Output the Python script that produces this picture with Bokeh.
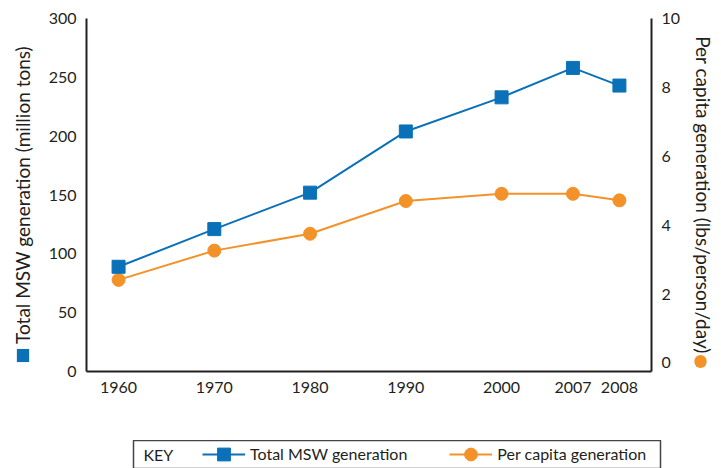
from bokeh.plotting import figure
from bokeh.layouts import column
from bokeh.models import (ColumnDataSource, FactorRange, Range1d, LinearAxis,
                          FixedTicker, Legend, LegendItem, Label)
from bokeh.embed import file_html
from bokeh.resources import INLINE

# ---- data ----
years = ["1960", "1970", "1980", "1990", "2000", "2007", "2008"]
total_msw = [89, 121, 152, 204, 233, 258, 243]          # million tons
per_capita = [2.41, 3.26, 3.75, 4.70, 4.91, 4.91, 4.72]  # lbs/person/day
left_ticks = [0, 50, 100, 150, 200, 250, 300]
right_ticks = [0, 2, 4, 6, 8, 10]

BLUE = "#0a71b8"
ORANGE = "#f39229"
INK = "#231f20"
FONT = "Lato"

# decades in one group, the two recent years each in their own subgroup
recent = [y for y in years if int(y) % 10]
factors = [("", "", y) if int(y) % 10 == 0 else (" ", " " * (recent.index(y) + 1), y)
           for y in years]

x_range = FactorRange(*factors, factor_padding=1.06, group_padding=0.535,
                      subgroup_padding=0.0, range_padding=0.19,
                      range_padding_units="absolute")

p = figure(x_range=x_range, y_range=Range1d(0, 300),
           frame_width=565, frame_height=353,
           min_border_left=86, min_border_right=68,
           min_border_top=18, min_border_bottom=69,
           frame_align=False,
           output_backend="svg", toolbar_location=None,
           background_fill_color="white", border_fill_color="white")
p.extra_y_ranges = {"pc": Range1d(-0.25, 10)}
p.grid.visible = False
p.outline_line_color = None

src = ColumnDataSource(dict(x=factors, total=total_msw, pc=per_capita))
l2 = p.line("x", "pc", source=src, y_range_name="pc", color=ORANGE, line_width=2)
s2 = p.scatter("x", "pc", source=src, y_range_name="pc", marker="circle",
               size=13, color=ORANGE)
l1 = p.line("x", "total", source=src, color=BLUE, line_width=2)
s1 = p.scatter("x", "total", source=src, marker="square", size=13, color=BLUE)

raxis = LinearAxis(y_range_name="pc")
p.add_layout(raxis, "right")

for ax in [p.xaxis[0], p.yaxis[0], raxis]:
    ax.axis_line_color = INK
    ax.axis_line_width = 2
    ax.major_tick_line_color = None
    ax.minor_tick_line_color = None
    ax.major_tick_out = 0
    ax.major_tick_in = 0
    ax.major_label_text_font = FONT
    ax.major_label_text_font_size = "16px"
    ax.major_label_text_color = INK
    ax.axis_label_text_font = FONT
    ax.axis_label_text_font_size = "19px"
    ax.axis_label_text_font_style = "normal"
    ax.axis_label_text_color = INK

xa = p.xaxis[0]
xa.group_text_font_size = "0px"
xa.subgroup_text_font_size = "0px"
xa.separator_line_color = None
xa.major_label_standoff = 10

ya = p.yaxis[0]
ya.ticker = FixedTicker(ticks=left_ticks)
ya.major_label_standoff = 10
ya.axis_label = "Total MSW generation (million tons)"
ya.axis_label_standoff = 12

raxis.ticker = FixedTicker(ticks=right_ticks)
raxis.major_label_standoff = 10
raxis.axis_label = "Per capita generation (lbs/person/day)"
raxis.axis_label_standoff = 9

# symbols under the axis titles (side panels are not clipped to the frame)
p.add_layout(Label(x=-63.5, y=-337, x_units="screen", y_units="screen", text=" ",
                   text_font_size="1px", text_align="center", text_baseline="middle",
                   background_fill_color=BLUE, padding=6), "above")
p.add_layout(Label(x=-18, y=10, x_units="screen", y_units="screen", text=" ",
                   text_font_size="1px", text_align="center", text_baseline="middle",
                   background_fill_color=ORANGE, padding=6, border_radius=7), "right")

# ---- key (separate strip below the chart) ----
key = figure(x_range=x_range, y_range=Range1d(1000, 1001),
             frame_width=527, frame_height=29,
             min_border_left=133, min_border_right=50,
             min_border_top=0, min_border_bottom=0,
             frame_align=False,
             x_axis_location=None, y_axis_location=None,
             output_backend="svg", toolbar_location=None,
             background_fill_color="white", border_fill_color="white")
key.grid.visible = False
key.outline_line_color = "#444444"
key.outline_line_width = 1.5

# swatch renderers: same series, kept outside the strip's visible y range
kl1 = key.line("x", "total", source=src, color=BLUE, line_width=2)
ks1 = key.scatter("x", "total", source=src, marker="square", size=13, color=BLUE)
kl2 = key.line("x", "pc", source=src, color=ORANGE, line_width=2)
ks2 = key.scatter("x", "pc", source=src, marker="circle", size=13, color=ORANGE)

key.add_layout(Label(x=10, y=15.5, x_units="screen", y_units="screen", text="KEY",
                     text_font=FONT, text_font_size="16px", text_color=INK,
                     text_align="left", text_baseline="middle"))

legend = Legend(items=[LegendItem(label="Total MSW generation", renderers=[kl1, ks1]),
                       LegendItem(label="Per capita generation", renderers=[kl2, ks2])],
                orientation="horizontal", location=(69, -0.5),
                glyph_width=43, glyph_height=32, label_standoff=5, spacing=42,
                padding=0, margin=0, border_line_color=None,
                background_fill_color=None,
                label_text_font=FONT, label_text_font_size="16px",
                label_text_color=INK)
key.add_layout(legend)

layout = column(p, key, spacing=0)
open("out.html", "w").write(file_html(layout, INLINE))
